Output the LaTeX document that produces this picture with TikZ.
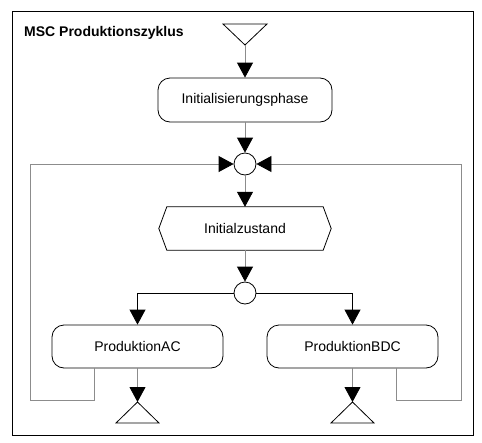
\documentclass[tikz,border=0pt]{standalone}
\usepackage{fontspec}
\setmainfont{Liberation Sans}
\usetikzlibrary{arrows.meta,calc}
\begin{document}
\begin{tikzpicture}[x=1pt,y=-1pt,
  conn/.style={draw=black!45,line width=0.8pt},
  bconn/.style={draw=black,line width=0.8pt},
  arr/.style={-{Triangle[length=15pt,width=16pt,color=black]}},
  proc/.style={draw,line width=0.8pt,rounded corners=12pt,font=\fontsize{14}{16}\selectfont},
  junction/.style={draw,circle,line width=0.8pt,minimum size=22pt,inner sep=0pt,fill=white},
  term/.style={draw,line width=0.8pt},
  lbl/.style={font=\fontsize{14}{16}\selectfont,inner sep=0pt}]
\useasboundingbox (0,0) rectangle (482,442);
\fill[white] (0,0) rectangle (482,442);
\draw[line width=1pt] (12,11) rectangle (473,435);
\node[anchor=base west,inner sep=0pt,font=\fontsize{14}{16}\selectfont\bfseries] (title) at (24,36.5) {MSC Produktionszyklus};

% start triangle
\draw[term] (223,24) -- (267,24) -- (245,45) -- cycle;
\coordinate (start) at (245,45);

\node[proc,minimum width=174pt,minimum height=44pt] (initphase) at (245,100) {Initialisierungsphase};
\node[junction] (j1) at (245,164) {};
\node[lbl,minimum width=156pt,minimum height=43pt] (initz) at (245,228.5) {Initialzustand};
\draw[term] (initz.north west) -- (initz.north east) -- ([xshift=8pt]initz.east) -- (initz.south east) -- (initz.south west) -- ([xshift=-8pt]initz.west) -- cycle;
\node[junction] (j2) at (245,293) {};
\node[proc,minimum width=171pt,minimum height=43pt] (ac) at (137.5,346.5) {ProduktionAC};
\node[proc,minimum width=171pt,minimum height=43pt] (bdc) at (352.5,346.5) {ProduktionBDC};

% end triangles
\draw[term] (137.5,402) -- (159,423) -- (116,423) -- cycle;
\coordinate (endac) at (137.5,402);
\draw[term] (352.5,402) -- (374,423) -- (331,423) -- cycle;
\coordinate (endbdc) at (352.5,402);

% connectors
\draw[conn,arr] (start) -- (initphase.north);
\draw[conn,arr] (initphase.south) -- (j1.north);
\draw[conn,arr] (j1.south) -- (initz.north);
\draw[conn,arr] (initz.south) -- (j2.north);
\draw[bconn,arr] (j2.west) -| (ac.north);
\draw[bconn,arr] (j2.east) -| (bdc.north);
\draw[conn,arr] (ac.south) -- (endac);
\draw[conn,arr] (bdc.south) -- (endbdc);

% loops
\coordinate (acout) at (94,368);
\coordinate (bdcout) at (396,368);
\draw[conn,arr] (acout) -- (94,400) -- (30,400) -- (30,164) -- (j1.west);
\draw[conn,arr] (bdcout) -- (396,400) -- (461,400) -- (461,164) -- (j1.east);
\end{tikzpicture}
\end{document}
